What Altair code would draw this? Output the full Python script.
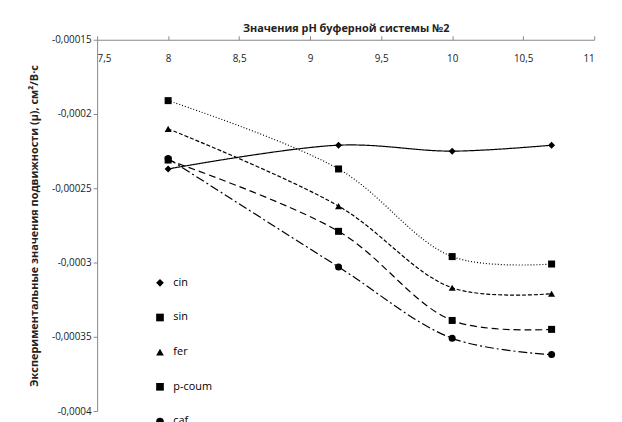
import altair as alt
import pandas as pd

ph = [8, 9.2, 10, 10.7]
cin = [-0.000237, -0.000221, -0.000225, -0.000221]
sin = [-0.000191, -0.000237, -0.000296, -0.000301]
fer = [-0.00021, -0.000262, -0.000317, -0.000321]
pcoum = [-0.000231, -0.000279, -0.000339, -0.000345]
caf = [-0.00023, -0.000303, -0.000351, -0.000362]

names = ["cin", "sin", "fer", "p-coum", "caf"]
series = [cin, sin, fer, pcoum, caf]
rows = []
for n, vals in zip(names, series):
    for x, y in zip(ph, vals):
        rows.append({"ph": x, "mu": y, "s": n})
df = pd.DataFrame(rows)

dashes = [[1, 0], [1, 2], [4, 2], [7, 4], [9, 3, 2, 3]]
shapes = ["diamond", "square", "triangle-up", "square", "circle"]

x = alt.X("ph:Q", scale=alt.Scale(domain=[7.5, 11], nice=False),
          axis=alt.Axis(orient="top", title="Значения pH буферной системы №2",
                        titleFontWeight="bold", titleFontSize=11, titlePadding=2,
                        values=[7.5, 8, 8.5, 9, 9.5, 10, 10.5, 11],
                        labelExpr="replace(toString(datum.value), '.', ',')",
                        labelBaseline="top", labelPadding=-18, tickSize=4,
                        domainColor="#888", tickColor="#888", grid=False))
y = alt.Y("mu:Q", scale=alt.Scale(domain=[-0.0004, -0.00015], nice=False),
          axis=alt.Axis(title="Экспериментальные значения подвижности (µ), см²/В·с",
                        titleFontWeight="bold", titleFontSize=11, titlePadding=12,
                        values=[-0.0004, -0.00035, -0.0003, -0.00025, -0.0002, -0.00015],
                        labelExpr="replace(toString(datum.value), '.', ',')",
                        tickSize=4, domainColor="#888", tickColor="#888", grid=False))

leg = alt.Legend(title=None, orient="none", legendX=58, legendY=240,
                 rowPadding=22, labelFontSize=11, symbolSize=60, symbolStrokeWidth=1.2,
                 symbolFillColor="black", symbolStrokeColor="black", labelOffset=8)

base = alt.Chart(df).encode(x=x, y=y)
lines = base.mark_line(color="black", interpolate="catmull-rom", strokeWidth=1.2).encode(
    strokeDash=alt.StrokeDash("s:N", scale=alt.Scale(domain=names, range=dashes), legend=leg))
pts = base.mark_point(filled=True, color="black", opacity=1, size=50).encode(
    shape=alt.Shape("s:N", scale=alt.Scale(domain=names, range=shapes), legend=leg))

chart = (lines + pts).properties(
    width=502, height=375, autosize="none",
    padding={"left": 90, "top": 30, "right": 20, "bottom": 10}
).configure(font="Open Sans").configure_axis(labelFontSize=10, labelColor="#222",
                                                 titleColor="#222").configure_view(stroke=None)

chart.save("out.html", embed_options={"renderer": "svg", "actions": False})
